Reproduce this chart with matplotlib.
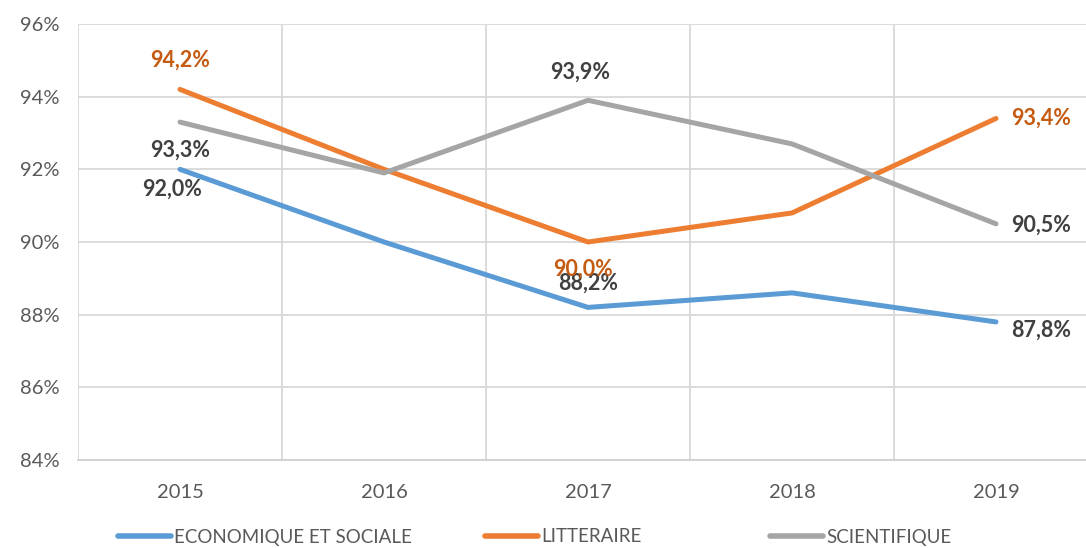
import matplotlib
matplotlib.use("Agg")
import matplotlib.pyplot as plt
from matplotlib.ticker import FuncFormatter, MultipleLocator

years = ["2015", "2016", "2017", "2018", "2019"]
eco = [92.0, 90.0, 88.2, 88.6, 87.8]
lit = [94.2, 92.0, 90.0, 90.8, 93.4]
sci = [93.3, 91.9, 93.9, 92.7, 90.5]
series_names = ["ECONOMIQUE ET SOCIALE", "LITTERAIRE", "SCIENTIFIQUE"]

plt.rcParams['font.family'] = ['Lato', 'DejaVu Sans']

fig = plt.figure(figsize=(10.86, 5.48), dpi=100)
ax = fig.add_axes([78/1086, 88/548, (1098-78)/1086, (460-24)/548])

colors = ["#5B9BD5", "#ED7D31", "#A5A5A5"]
x = list(range(len(years)))
lines = []
for vals, c, name in zip([eco, lit, sci], colors, series_names):
    ln, = ax.plot(x, vals, color=c, lw=3.6, solid_capstyle='round', solid_joinstyle='round', label=name, zorder=3)
    lines.append(ln)

ax.set_xlim(-0.5, 4.5)
ax.set_ylim(84, 96)
ax.yaxis.set_major_locator(MultipleLocator(2))
ax.yaxis.set_major_formatter(FuncFormatter(lambda v, p: f"{v:.0f}%"))
ax.set_xticks(x)
ax.set_xticklabels(years)
ax.set_xticks([i + 0.5 for i in range(-1, 5)], minor=True)
ax.grid(True, which='major', axis='y', color='#D9D9D9', lw=1.3)
ax.grid(True, which='minor', axis='x', color='#D9D9D9', lw=1.3)
for s in ['top', 'right', 'left']:
    ax.spines[s].set_visible(False)
ax.spines['bottom'].set_color('#D0D0D0')
ax.spines['bottom'].set_linewidth(1.3)
ax.tick_params(axis='both', which='both', length=0, colors='#595959', labelsize=14.5)
ax.tick_params(axis='x', pad=17)
ax.tick_params(axis='y', pad=13)

def fmt(v):
    return f"{v:.1f}%".replace(".", ",")

dark = "#404040"
orange_lbl = "#C55A11"
lbl_kw = dict(fontsize=15.5, fontweight='bold', zorder=5)
# (series, index, color, dx pixels, dy pixels, ha, va)
labels = [
    (eco, 0, dark, -8, -20, 'center', 'center'),
    (eco, 2, dark, 0, 24, 'center', 'center'),
    (eco, 4, dark, 15, -8, 'left', 'center'),
    (lit, 0, orange_lbl, 0, 29, 'center', 'center'),
    (lit, 2, orange_lbl, -5, -27, 'center', 'center'),
    (lit, 4, orange_lbl, 15, 0, 'left', 'center'),
    (sci, 0, dark, 0, -28, 'center', 'center'),
    (sci, 2, dark, -8, 28, 'center', 'center'),
    (sci, 4, dark, 15, -1, 'left', 'center'),
]
for vals, i, c, dx, dy, ha, va in labels:
    ax.annotate(fmt(vals[i]), (i, vals[i]), xytext=(dx * 0.72, dy * 0.72),
                textcoords='offset points', ha=ha, va=va, color=c, **lbl_kw)

# legend entries placed individually
leg_x = [118, 485, 770]
for ln, name, lx in zip(lines, series_names, leg_x):
    leg = fig.legend([ln], [name], loc='center left', bbox_to_anchor=(lx/1086, 11/548),
                     frameon=False, fontsize=13.5, handlelength=2.8, handletextpad=0.2,
                     borderpad=0, borderaxespad=0)
    for t in leg.get_texts():
        t.set_color('#595959')
    for h in leg.get_lines():
        h.set_linewidth(4)
        h.set_solid_capstyle('round')

fig.savefig("out.png", dpi=100)
